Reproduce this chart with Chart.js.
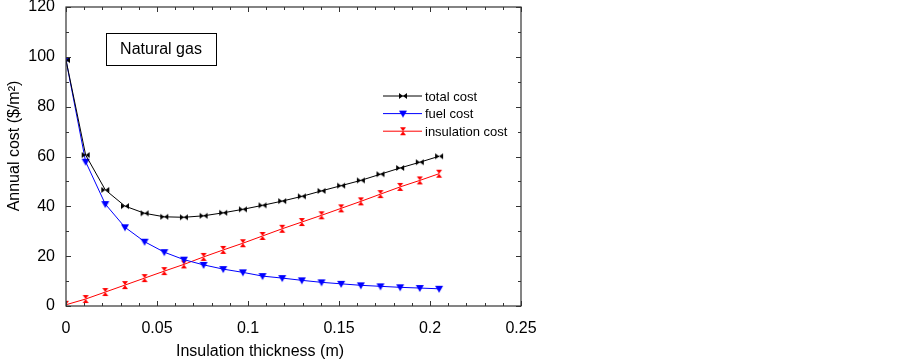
<!DOCTYPE html>
<html>
<head>
<meta charset="utf-8">
<script src="https://cdn.jsdelivr.net/npm/chart.js@4/dist/chart.umd.min.js"></script>
<style>
  html, body { margin: 0; padding: 0; background: #fff; }
  #wrap { width: 903px; height: 361px; }
</style>
</head>
<body>
<div id="wrap"><canvas id="chartCost" width="903" height="361"></canvas></div>
<script>
// insulation thickness (m)
const thickness = [0, 0.0108, 0.0216, 0.0324, 0.0432, 0.054, 0.0648, 0.0756, 0.0864, 0.0972,
    0.108, 0.1188, 0.1296, 0.1404, 0.1512, 0.162, 0.1728, 0.1836, 0.1944, 0.205];
// annual costs ($/m2)
const totalCost = [98.7, 60.6, 46.6, 40.1, 37.2, 35.8, 35.6, 36.2, 37.4, 38.8,
    40.4, 42.1, 44.0, 46.2, 48.3, 50.4, 52.9, 55.4, 57.7, 60.1];
const fuelCost = [98.7, 57.9, 40.9, 31.6, 25.8, 21.6, 18.6, 16.5, 14.8, 13.5,
    12.0, 11.2, 10.3, 9.5, 8.9, 8.3, 7.9, 7.5, 7.2, 6.9];
const insulationCost = [0.5, 2.8, 5.6, 8.4, 11.2, 14.0, 16.7, 19.7, 22.5, 25.2,
    28.1, 31.0, 33.7, 36.4, 39.2, 42.0, 44.9, 47.8, 50.4, 53.1];

const xTicks = [0, 0.05, 0.1, 0.15, 0.2, 0.25];
const yTicks = [0, 20, 40, 60, 80, 100, 120];
const seriesNames = ["total cost", "fuel cost", "insulation cost"];
const fuelName = "Natural gas";
const xTitle = "Insulation thickness (m)";
const yTitle = "Annual cost ($/m\u00B2)";

const FONT = "Arial, 'Liberation Sans', sans-serif";

// little canvases used as point styles
function makeMarker(color, pts) {
    const c = document.createElement("canvas");
    c.width = 10;
    c.height = 10;
    const g = c.getContext("2d");
    g.fillStyle = color;
    pts.forEach(tri => {
        g.beginPath();
        g.moveTo(tri[0][0], tri[0][1]);
        g.lineTo(tri[1][0], tri[1][1]);
        g.lineTo(tri[2][0], tri[2][1]);
        g.closePath();
        g.fill();
    });
    return c;
}

const bowtie = makeMarker("#000", [
    [[1, 2], [1, 8], [5, 5]],
    [[9, 2], [9, 8], [5, 5]]
]);
const downTri = makeMarker("#0000ff", [
    [[1, 2], [9, 2], [5, 9]]
]);
const hourglass = makeMarker("#ff0000", [
    [[2, 1], [8, 1], [5, 5]],
    [[2, 9], [8, 9], [5, 5]]
]);

function toPoints(ys) {
    return ys.map((y, i) => ({ x: thickness[i], y: y }));
}

const series = [
    { label: seriesNames[0], data: totalCost, color: "#000000", marker: bowtie },
    { label: seriesNames[1], data: fuelCost, color: "#0000ff", marker: downTri },
    { label: seriesNames[2], data: insulationCost, color: "#ff0000", marker: hourglass }
];

// frame, inward ticks, legend, note box and axis titles
const decorPlugin = {
    id: "decor",
    afterDraw(chart) {
        const ctx = chart.ctx;
        const a = chart.chartArea;
        const xs = chart.scales.x;
        const ys = chart.scales.y;
        ctx.save();

        ctx.strokeStyle = "#333";
        ctx.lineWidth = 1.2;
        ctx.strokeRect(a.left, a.top, a.right - a.left, a.bottom - a.top);

        ctx.lineWidth = 1;
        ctx.beginPath();
        for (let i = 0; i <= 25; i++) {
            const v = i / 100;
            const px = Math.round(xs.getPixelForValue(v)) + 0.5;
            const len = i % 5 === 0 ? 5 : 3;
            ctx.moveTo(px, a.bottom);
            ctx.lineTo(px, a.bottom - len);
            ctx.moveTo(px, a.top);
            ctx.lineTo(px, a.top + len);
        }
        for (let v = 0; v <= 120; v += 10) {
            const py = Math.round(ys.getPixelForValue(v)) + 0.5;
            const len = v % 20 === 0 ? 5 : 3;
            ctx.moveTo(a.left, py);
            ctx.lineTo(a.left + len, py);
            ctx.moveTo(a.right, py);
            ctx.lineTo(a.right - len, py);
        }
        ctx.stroke();

        // legend
        ctx.font = "13px " + FONT;
        ctx.textBaseline = "middle";
        ctx.textAlign = "left";
        series.forEach((s, i) => {
            const y = 96 + i * 17.6;
            ctx.strokeStyle = s.color;
            ctx.lineWidth = 1;
            ctx.beginPath();
            ctx.moveTo(383, y);
            ctx.lineTo(422, y);
            ctx.stroke();
            ctx.drawImage(s.marker, 398, y - 5);
            ctx.fillStyle = "#000";
            ctx.fillText(s.label, 425, y + 1);
        });

        // note box
        ctx.strokeStyle = "#000";
        ctx.lineWidth = 1;
        ctx.strokeRect(106.5, 33.5, 110, 32);
        ctx.font = "16px " + FONT;
        ctx.textAlign = "center";
        ctx.fillText(fuelName, 161, 50);

        // x axis title
        ctx.textBaseline = "alphabetic";
        ctx.fillText(xTitle, 260, 356);

        // y axis title
        ctx.translate(18.5, 146);
        ctx.rotate(-Math.PI / 2);
        ctx.fillText(yTitle, 0, 0);
        ctx.restore();
    }
};

const ctx = document.getElementById("chartCost").getContext("2d");
new Chart(ctx, {
    type: "line",
    data: {
        datasets: series.map(s => ({
            label: s.label,
            data: toPoints(s.data),
            borderColor: s.color,
            backgroundColor: s.color,
            borderWidth: 1,
            pointStyle: s.marker,
            pointRadius: 5,
            tension: 0,
            fill: false
        }))
    },
    options: {
        responsive: false,
        animation: false,
        layout: { padding: { left: 0, top: 7, right: 382, bottom: 0 } },
        plugins: {
            legend: { display: false },
            tooltip: { enabled: false }
        },
        scales: {
            x: {
                type: "linear",
                min: 0,
                max: 0.25,
                afterBuildTicks: s => { s.ticks = xTicks.map(v => ({ value: v })); },
                afterFit: s => { s.height = 55; s.paddingLeft = 0; s.paddingRight = 0; },
                grid: { display: false },
                border: { display: false },
                ticks: {
                    padding: 5,
                    color: "#000",
                    font: { family: FONT, size: 16 },
                    maxRotation: 0,
                    callback: v => String(v)
                }
            },
            y: {
                type: "linear",
                min: 0,
                max: 120,
                afterBuildTicks: s => { s.ticks = yTicks.map(v => ({ value: v })); },
                afterFit: s => { s.width = 66; s.paddingTop = 0; s.paddingBottom = 0; },
                grid: { display: false },
                border: { display: false },
                ticks: {
                    padding: 3,
                    color: "#000",
                    font: { family: FONT, size: 16 },
                    callback: v => String(v)
                }
            }
        }
    },
    plugins: [decorPlugin]
});
</script>
</body>
</html>
